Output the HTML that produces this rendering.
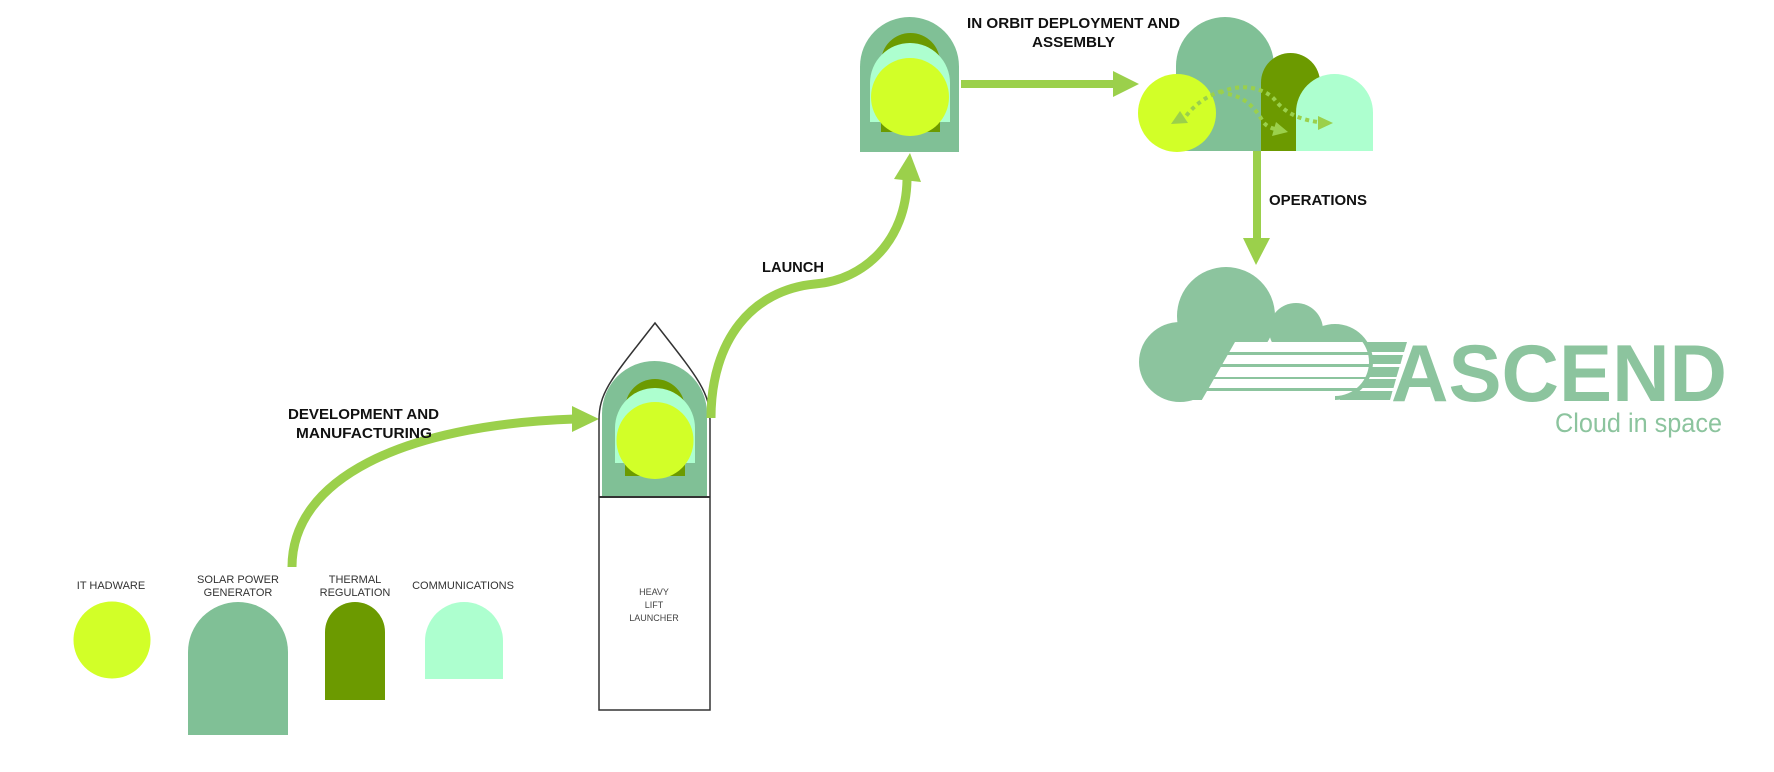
<!DOCTYPE html>
<html>
<head>
<meta charset="utf-8">
<style>
  html,body{margin:0;padding:0;background:#ffffff;}
  svg{display:block;}
  text{font-family:"Liberation Sans", Arial, sans-serif;}
</style>
</head>
<body>
<svg width="1774" height="772" viewBox="0 0 1774 772" xmlns="http://www.w3.org/2000/svg">
  <defs>
    <clipPath id="cloudClip">
      <rect x="1100" y="300" width="235" height="120"/>
      <circle cx="1335" cy="362" r="34"/>
    </clipPath>
  </defs>
  <rect width="1774" height="772" fill="#ffffff"/>

  <!-- ===== Legend ===== -->
  <g font-size="11" fill="#333" text-anchor="middle">
    <text x="111" y="589">IT HADWARE</text>
    <text x="238" y="583">SOLAR POWER</text>
    <text x="238" y="596">GENERATOR</text>
    <text x="355" y="583">THERMAL</text>
    <text x="355" y="596">REGULATION</text>
    <text x="463" y="589">COMMUNICATIONS</text>
  </g>
  <circle cx="112" cy="640" r="38.5" fill="#d2ff28"/>
  <path d="M188 735 V652 A50 50 0 0 1 288 652 V735 Z" fill="#80c096"/>
  <path d="M325 700 V632 A30 30 0 0 1 385 632 V700 Z" fill="#6c9a00"/>
  <path d="M425 679 V641 A39 39 0 0 1 503 641 V679 Z" fill="#adffcf"/>

  <!-- ===== Development arrow ===== -->
  <path d="M292 567 C292 480 400 425 575 419" fill="none" stroke="#9bd04b" stroke-width="9"/>
  <polygon points="572,406 599,419 572,432" fill="#9bd04b"/>
  <g font-size="15" font-weight="bold" fill="#111">
    <text x="288" y="419" textLength="151" lengthAdjust="spacingAndGlyphs">DEVELOPMENT AND</text>
    <text x="296" y="438" textLength="136" lengthAdjust="spacingAndGlyphs">MANUFACTURING</text>
  </g>

  <!-- ===== Rocket ===== -->
  <path d="M602 497 V413.5 A52.5 52.5 0 0 1 707 413.5 V497 Z" fill="#80c096"/>
  <path d="M625 476 V409 A30 30 0 0 1 685 409 V476 Z" fill="#6c9a00"/>
  <path d="M615 463 V428 A40 40 0 0 1 695 428 V463 Z" fill="#adffcf"/>
  <ellipse cx="655" cy="440.5" rx="38.5" ry="38.5" fill="#d2ff28"/>
  <path d="M599 710 L599 420 C599 392 612 378 655 323 C698 378 710 392 710 420 L710 710 Z" fill="none" stroke="#333" stroke-width="1.5"/>
  <line x1="599" y1="497" x2="710" y2="497" stroke="#333" stroke-width="2"/>
  <g font-size="9" fill="#444" text-anchor="middle">
    <text x="654" y="595">HEAVY</text>
    <text x="654" y="608">LIFT</text>
    <text x="654" y="621">LAUNCHER</text>
  </g>

  <!-- ===== Launch arrow ===== -->
  <path d="M711 418 C711 340 752 290 815 284 C865 280 906 240 907 180" fill="none" stroke="#9bd04b" stroke-width="9"/>
  <polygon points="894,179 910,153 921,182" fill="#9bd04b"/>
  <text x="762" y="272" font-size="15" font-weight="bold" fill="#111" textLength="62" lengthAdjust="spacingAndGlyphs">LAUNCH</text>

  <!-- ===== Upper pod ===== -->
  <path d="M860 152 V66.5 A49.5 49.5 0 0 1 959 66.5 V152 Z" fill="#80c096"/>
  <path d="M881 132 V62.5 A29.5 29.5 0 0 1 940 62.5 V132 Z" fill="#6c9a00"/>
  <path d="M870 122 V83 A40 40 0 0 1 950 83 V122 Z" fill="#adffcf"/>
  <circle cx="910" cy="97" r="39" fill="#d2ff28"/>

  <!-- ===== Orbit arrow ===== -->
  <rect x="961" y="80" width="153" height="8" fill="#9bd04b"/>
  <polygon points="1113,71 1139,84 1113,97" fill="#9bd04b"/>
  <g font-size="15" font-weight="bold" fill="#111">
    <text x="967" y="28" textLength="213" lengthAdjust="spacingAndGlyphs">IN ORBIT DEPLOYMENT AND</text>
    <text x="1032" y="47" textLength="83" lengthAdjust="spacingAndGlyphs">ASSEMBLY</text>
  </g>

  <!-- ===== Orbit cluster ===== -->
  <path d="M1176 151 V66 A49 49 0 0 1 1274 66 V151 Z" fill="#80c096"/>
  <circle cx="1177" cy="113" r="39" fill="#d2ff28"/>
  <path d="M1261 151 V82.5 A29.5 29.5 0 0 1 1320 82.5 V151 Z" fill="#6c9a00"/>
  <path d="M1296 151 V112.5 A38.5 38.5 0 0 1 1373 112.5 V151 Z" fill="#adffcf"/>
  <g fill="none" stroke="#9bd04b" stroke-width="4" stroke-dasharray="4 4">
    <path d="M1222 91 Q1200 98 1186 116"/>
    <path d="M1220 93 C1240 82 1265 88 1275 100 C1283 110 1295 119 1318 122"/>
    <path d="M1228 94 C1245 97 1255 108 1262 120 Q1266 127 1275 129"/>
  </g>
  <g fill="#9bd04b">
    <polygon points="1171,124 1180,111 1188,123"/>
    <polygon points="1333,123 1318,116 1318,130"/>
    <polygon points="1288,132 1276,122 1272,136"/>
  </g>

  <!-- ===== Operations arrow ===== -->
  <rect x="1253" y="151" width="8" height="88" fill="#9bd04b"/>
  <polygon points="1243,238 1270,238 1256,265" fill="#9bd04b"/>
  <text x="1269" y="205" font-size="15" font-weight="bold" fill="#111" textLength="98" lengthAdjust="spacingAndGlyphs">OPERATIONS</text>

  <!-- ===== ASCEND logo ===== -->
  <g fill="#8cc49e">
    <ellipse cx="1180" cy="362" rx="41" ry="40"/>
    <circle cx="1226" cy="316" r="49"/>
    <circle cx="1296" cy="330" r="27"/>
    <circle cx="1335" cy="362" r="38"/>
    <rect x="1180" y="345" width="155" height="55"/>
    <polygon points="1340,342 1407,342 1404,352 1340,352"/>
    <polygon points="1340,355 1403,355 1400.5,364 1340,364"/>
    <polygon points="1340,367 1399.5,367 1396.5,377 1340,377"/>
    <polygon points="1340,379 1396,379 1393.5,388 1340,388"/>
    <polygon points="1340,391 1392.5,391 1390,400 1340,400"/>
  </g>
  <g fill="#ffffff" clip-path="url(#cloudClip)">
    <polygon points="1235,342 1380,342 1380,352 1229.3,352"/>
    <polygon points="1227.6,355 1380,355 1380,364 1222.5,364"/>
    <polygon points="1220.8,367 1380,367 1380,377 1215,377"/>
    <polygon points="1213.9,379 1380,379 1380,388 1208.8,388"/>
    <polygon points="1207,391 1380,391 1380,404 1199.5,404"/>
  </g>
  <text x="1391" y="401" font-size="81" font-weight="bold" fill="#8cc49e" textLength="336" lengthAdjust="spacingAndGlyphs">ASCEND</text>
  <text x="1555" y="432" font-size="27" fill="#8cc49e" textLength="167" lengthAdjust="spacingAndGlyphs">Cloud in space</text>
</svg>
</body>
</html>
